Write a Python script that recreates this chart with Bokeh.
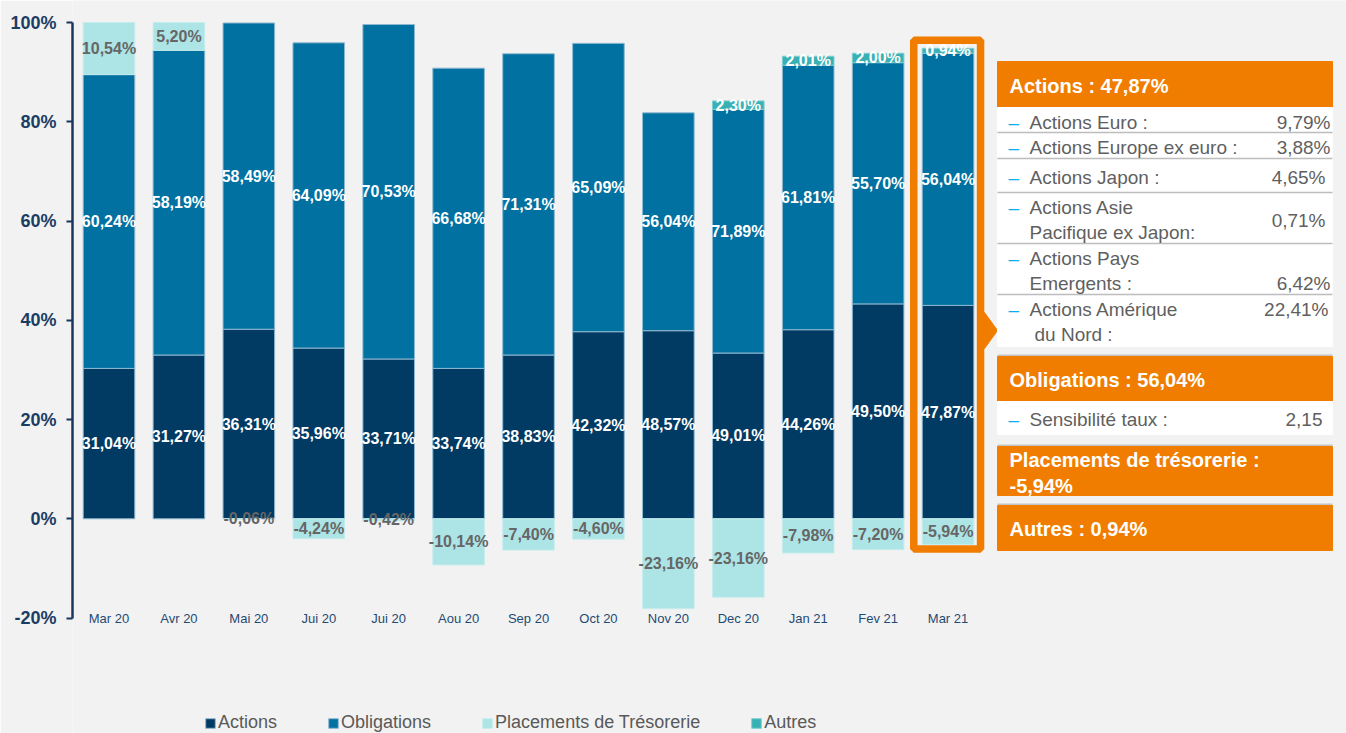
import numpy as np
from bokeh.plotting import figure
from bokeh.models import (ColumnDataSource, Range1d, LinearAxis, FixedTicker,
                          PrintfTickFormatter, Legend, LegendItem)
from bokeh.embed import file_html
from bokeh.resources import INLINE
from bokeh.core.properties import value

# ---------------- data ----------------
categories = ["Mar 20", "Avr 20", "Mai 20", "Jui 20", "Jui 20", "Aou 20", "Sep 20",
              "Oct 20", "Nov 20", "Dec 20", "Jan 21", "Fev 21", "Mar 21"]
# bar heights as drawn in the picture (%)
actions = [30.3, 33.0, 38.2, 34.4, 32.2, 30.3, 33.0, 37.7, 37.9, 33.4, 38.1, 43.3, 43.0]
obligations = [59.2, 61.4, 61.7, 61.5, 67.4, 60.5, 60.7, 58.1, 43.9, 49.1, 53.3, 48.6, 50.8]
tresorerie = [10.5, 5.6, -0.06, -4.0, -0.42, -9.3, -6.3, -4.1, -18.1, -15.8, -6.9, -6.2, -5.2]
autres = [0, 0, 0, 0, 0, 0, 0, 0, 0, 1.7, 1.8, 1.9, 1.0]
# data labels as printed
actions_lbl = ["31,04%", "31,27%", "36,31%", "35,96%", "33,71%", "33,74%", "38,83%",
               "42,32%", "48,57%", "49,01%", "44,26%", "49,50%", "47,87%"]
oblig_lbl = ["60,24%", "58,19%", "58,49%", "64,09%", "70,53%", "66,68%", "71,31%",
             "65,09%", "56,04%", "71,89%", "61,81%", "55,70%", "56,04%"]
tres_lbl = ["10,54%", "5,20%", "-0,06%", "-4,24%", "-0,42%", "-10,14%", "-7,40%",
            "-4,60%", "-23,16%", "-23,16%", "-7,98%", "-7,20%", "-5,94%"]
autres_lbl = ["", "", "", "", "", "", "", "", "", "2,30%", "2,01%", "2,00%", "0,94%"]
y_ticks = [-20, 0, 20, 40, 60, 80, 100]

# side panel texts
panel_actions_title = "Actions : 47,87%"
panel_rows = [["Actions Euro :"], ["Actions Europe ex euro :"], ["Actions Japon :"],
              ["Actions Asie", "Pacifique ex Japon:"], ["Actions Pays", "Emergents :"],
              ["Actions Amérique", "du Nord :"]]
panel_values = ["9,79%", "3,88%", "4,65%", "0,71%", "6,42%", "22,41%"]
panel_oblig_title = "Obligations : 56,04%"
panel_sens = ("Sensibilité taux :", "2,15")
panel_tres_title = ["Placements de trésorerie :", "-5,94%"]
panel_autres_title = "Autres : 0,94%"

# ---------------- style ----------------
FONT = value("Liberation Sans")
C_ACT = "#013A63"
C_OBL = "#0071A1"
C_TRE = "#ADE4E5"
C_AUT = "#38B0B4"
ORANGE = "#F07D00"
BG = "#F2F2F2"
EDGE = "#8FB8D0"

n = len(categories)
x = np.arange(n, dtype=float)
a = np.array(actions); o = np.array(obligations); t = np.array(tresorerie); u = np.array(autres)

a_bot, a_top = np.zeros(n), a
o_bot, o_top = a, a + o
t_bot = np.where(t > 0, a + o, 0.0)
t_top = np.where(t > 0, a + o + t, t)
u_bot = a + o + np.maximum(t, 0)
u_top = u_bot + u

src_a = ColumnDataSource(dict(x=x, b=a_bot, t=a_top, m=(a_bot + a_top) / 2, lbl=actions_lbl))
src_o = ColumnDataSource(dict(x=x, b=o_bot, t=o_top, m=(o_bot + o_top) / 2, lbl=oblig_lbl))
src_t = ColumnDataSource(dict(x=x, b=t_bot, t=t_top, m=(t_bot + t_top) / 2, lbl=tres_lbl))
keep = u > 0
src_u = ColumnDataSource(dict(x=x[keep], b=u_bot[keep], t=u_top[keep],
                              m=((u_bot + u_top) / 2)[keep],
                              lbl=[l for l, k in zip(autres_lbl, keep) if k]))

PX_PER_CAT = 69.92
PX_PER_PCT = 4.963
W, H = 1346, 733
LEFT = 72
x0 = -(108.5 - LEFT) / PX_PER_CAT
x1 = x0 + (W - LEFT) / PX_PER_CAT
y1 = 100 + 22 / PX_PER_PCT
y0 = -(H - 518.3) / PX_PER_PCT

p = figure(width=W, height=H, x_range=Range1d(x0, x1), y_range=Range1d(y0, y1),
           x_axis_type=None, y_axis_type=None, toolbar_location=None,
           output_backend="svg", min_border=0, min_border_left=LEFT,
           background_fill_color=BG, border_fill_color=BG, outline_line_color=None)
p.grid.visible = False
# pixel-like ranges for the side panel decoration
p.extra_x_ranges = {"px": Range1d(LEFT, W)}
p.extra_y_ranges = {"px": Range1d(H, 0)}

BW = 0.738
r_a = p.vbar(x="x", bottom="b", top="t", width=BW, source=src_a, fill_color=C_ACT, line_color=EDGE, line_width=1)
r_o = p.vbar(x="x", bottom="b", top="t", width=BW, source=src_o, fill_color=C_OBL, line_color=EDGE, line_width=1)
r_t = p.vbar(x="x", bottom="b", top="t", width=BW, source=src_t, fill_color=C_TRE, line_color="#C6EDEE", line_width=1)
r_u = p.vbar(x="x", bottom="b", top="t", width=BW, source=src_u, fill_color=C_AUT, line_color="#7FCFD2", line_width=1)

lab_kw = dict(x="x", y="m", text="lbl", text_font=FONT, text_font_style="bold",
              text_font_size="16px", text_align="center", text_baseline="middle")
p.text(source=src_a, text_color="white", **lab_kw)
p.text(source=src_o, text_color="white", **lab_kw)
p.text(source=src_t, text_color="#666666", **lab_kw)
p.text(source=src_u, text_color="white", **lab_kw)

# category labels along the -20% level
src_c = ColumnDataSource(dict(x=x, y=[y_ticks[0]] * n, lbl=categories))
p.text(x="x", y="y", text="lbl", source=src_c, text_font=FONT, text_font_size="13px",
       text_color="#1F4A73", text_align="center", text_baseline="middle")

# highlight of the last month
hl = n - 1
p.quad(left=[hl - 0.49], right=[hl + 0.465], top=[96.4], bottom=[-6.1],
       fill_color=None, line_color=ORANGE, line_width=7.5)

yaxis = LinearAxis(bounds=(y_ticks[0], y_ticks[-1]), ticker=FixedTicker(ticks=y_ticks),
                   formatter=PrintfTickFormatter(format="%d%%"),
                   axis_line_color="#17375E", axis_line_width=2.5,
                   major_tick_line_color="#17375E", major_tick_line_width=2,
                   major_tick_out=6, major_tick_in=0, minor_tick_line_color=None,
                   major_label_text_font="Liberation Sans", major_label_text_font_style="bold",
                   major_label_text_font_size="18px", major_label_text_color="#1B3D63",
                   major_label_standoff=10)
p.add_layout(yaxis, "left")

legend = Legend(items=[LegendItem(label="Actions", renderers=[r_a]),
                       LegendItem(label="Obligations", renderers=[r_o]),
                       LegendItem(label="Placements de Trésorerie", renderers=[r_t]),
                       LegendItem(label="Autres", renderers=[r_u])],
                orientation="horizontal", location=(132, 0), padding=0, margin=0,
                spacing=50, glyph_width=12, glyph_height=12, label_standoff=2,
                label_text_font="Liberation Sans", label_text_font_size="18px",
                label_text_color="#595959", border_line_color=None,
                background_fill_alpha=0)
p.add_layout(legend)

# ---------------- side panel (pixel ranges) ----------------
PX = dict(x_range_name="px", y_range_name="px")
BX0, BX1 = 997, 1332
TX = 1009
p.patch([984, 997, 984], [312, 330, 348], color=ORANGE, **PX)

# actions block
p.quad(left=[BX0], right=[BX1], top=[61], bottom=[107], color=ORANGE, **PX)
p.quad(left=[BX0], right=[BX1], top=[107], bottom=[346], color="white", **PX)
sep_y = [132, 158, 192, 243, 294]
p.segment(x0=[BX0] * len(sep_y), x1=[BX1] * len(sep_y), y0=sep_y, y1=sep_y,
          line_color="#BDBDBD", line_width=1.5, **PX)
# separators above the lower blocks
p.segment(x0=[BX0] * 3, x1=[BX1] * 3, y0=[355, 445, 504], y1=[355, 445, 504],
          line_color="#C4C4C4", line_width=2, **PX)

title_kw = dict(text_font=FONT, text_font_style="bold", text_font_size="20px",
                text_color="white", text_baseline="middle", text_align="left", **PX)
p.text(x=[TX], y=[85], text=[panel_actions_title], **title_kw)

row_line_y = [[121.5], [147], [176.5], [206.5, 231.5], [257.5, 283], [309, 334]]
row_line_x = [[1029], [1029], [1029], [1029, 1029], [1029, 1029], [1029, 1034]]
value_y = [121.5, 147, 176.5, 219.5, 283, 309]
value_x = [1330, 1330, 1325, 1325, 1330, 1328]
lx, ly, lt, dy = [], [], [], []
for lines, ys, xs in zip(panel_rows, row_line_y, row_line_x):
    dy.append(ys[0])
    for ln, yy, xx in zip(lines, ys, xs):
        lx.append(xx); ly.append(yy); lt.append(ln)
body_kw = dict(text_font=FONT, text_font_size="19px", text_color="#5F5F5F",
               text_baseline="middle", **PX)
dash_kw = dict(text_font=FONT, text_font_size="19px", text_color="#00B0F0",
               text_baseline="middle", text_align="left", **PX)
p.text(x=lx, y=ly, text=lt, text_align="left", **body_kw)
p.text(x=[1008] * len(dy), y=dy, text=["–"] * len(dy), **dash_kw)
p.text(x=value_x, y=value_y, text=panel_values, text_align="right", **body_kw)

# obligations block
p.quad(left=[BX0], right=[BX1], top=[356], bottom=[401], color=ORANGE, **PX)
p.text(x=[TX], y=[379], text=[panel_oblig_title], **title_kw)
p.quad(left=[BX0], right=[BX1], top=[401], bottom=[434], color="white", **PX)
p.text(x=[1008], y=[418.5], text=["–"], **dash_kw)
p.text(x=[1029], y=[418.5], text=[panel_sens[0]], text_align="left", **body_kw)
p.text(x=[1322], y=[418.5], text=[panel_sens[1]], text_align="right", **body_kw)

# tresorerie block
p.quad(left=[BX0], right=[BX1], top=[446], bottom=[495], color=ORANGE, **PX)
p.text(x=[TX, TX], y=[459.5, 485], text=panel_tres_title, **title_kw)

# autres block
p.quad(left=[BX0], right=[BX1], top=[505], bottom=[550], color=ORANGE, **PX)
p.text(x=[TX], y=[528], text=[panel_autres_title], **title_kw)

open("out.html", "w").write(file_html(p, INLINE))
